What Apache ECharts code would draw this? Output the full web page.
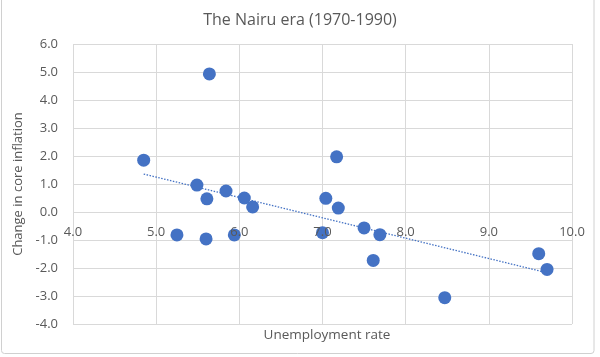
<!DOCTYPE html>
<html>
<head>
<meta charset="utf-8">
<script src="https://cdn.jsdelivr.net/npm/echarts@6/dist/echarts.min.js"></script>
<style>
html,body{margin:0;padding:0;background:#fff;}
#chart{width:600px;height:357px;}
</style>
</head>
<body>
<div id="chart"></div>
<script>
// Unemployment rate (x) and change in core inflation (y), 1970-1990
var unemployment = [4.85, 5.64, 5.49, 5.61, 5.84, 6.06, 6.16, 5.25, 5.60, 5.94, 7.00, 7.04, 7.17, 7.19, 7.50, 7.69, 7.61, 8.47, 9.60, 9.70];
var inflationChange = [1.85, 4.93, 0.96, 0.47, 0.75, 0.50, 0.18, -0.82, -0.96, -0.82, -0.74, 0.49, 1.97, 0.14, -0.57, -0.81, -1.73, -3.06, -1.49, -2.05];
var xTicks = [4.0, 5.0, 6.0, 7.0, 8.0, 9.0, 10.0];
var yTicks = [-4.0, -3.0, -2.0, -1.0, 0.0, 1.0, 2.0, 3.0, 4.0, 5.0, 6.0];

var points = unemployment.map(function (x, i) { return [x, inflationChange[i]]; });

// least-squares linear trendline
var n = unemployment.length, sx = 0, sy = 0, sxx = 0, sxy = 0;
for (var i = 0; i < n; i++) {
  sx += unemployment[i]; sy += inflationChange[i];
  sxx += unemployment[i] * unemployment[i]; sxy += unemployment[i] * inflationChange[i];
}
var slope = (n * sxy - sx * sy) / (n * sxx - sx * sx);
var icpt = (sy - slope * sx) / n;
var xMin = Math.min.apply(null, unemployment), xMax = Math.max.apply(null, unemployment);
var trend = [[xMin, icpt + slope * xMin], [xMax, icpt + slope * xMax]];

var FONT = 'Open Sans';
var TXT = '#595959';
var GRID = '#d9d9d9';

var H = 357, GRID_TOP = 44, GRID_BOTTOM = 33;
var yMinV = yTicks[0], yMaxV = yTicks[yTicks.length - 1];
var xMinV = xTicks[0], xMaxV = xTicks[xTicks.length - 1];
// horizontal axis crosses the vertical axis at 0 (as in the Excel original)
var zeroOffset = -(0 - yMinV) / (yMaxV - yMinV) * (H - GRID_TOP - GRID_BOTTOM);
var fmt = function (v) { return v.toFixed(1); };

var chart = echarts.init(document.getElementById('chart'));
chart.setOption({
  backgroundColor: '#ffffff',
  animation: false,
  title: [{
    text: 'The Nairu era (1970-1990)',
    left: 'center',
    top: 7,
    textStyle: { fontFamily: FONT, fontSize: 16, fontWeight: 'normal', color: TXT }
  }, {
    text: 'Unemployment rate',
    left: 322, textAlign: 'center',
    top: 323,
    textStyle: { fontFamily: FONT, fontSize: 13.5, fontWeight: 'normal', color: TXT }
  }],
  graphic: [{
    type: 'rect',
    shape: { x: 1.5, y: -4, width: 592.5, height: 357.5, r: 3 },
    style: { fill: 'none', stroke: '#d0d0d0', lineWidth: 1 },
    silent: true, z: -10
  }],
  grid: { left: 73, right: 28, top: GRID_TOP, bottom: GRID_BOTTOM },
  xAxis: [{
    type: 'value',
    min: xMinV, max: xMaxV, interval: 1,
    axisLine: { show: false, onZero: false },
    axisTick: { show: false },
    axisLabel: { show: false },
    splitLine: { show: true, lineStyle: { color: GRID } }
  }, {
    type: 'value',
    position: 'bottom',
    offset: zeroOffset,
    min: xMinV, max: xMaxV, interval: 1,
    z: 10,
    axisLine: { show: false, onZero: false },
    axisTick: { show: false },
    splitLine: { show: false },
    axisLabel: { margin: 14, fontFamily: FONT, fontSize: 13, color: TXT, formatter: fmt }
  }],
  yAxis: {
    type: 'value',
    min: yMinV, max: yMaxV, interval: 1,
    axisLine: { show: false, onZero: false },
    axisTick: { show: false },
    splitLine: { show: true, lineStyle: { color: GRID } },
    axisLabel: { margin: 15, fontFamily: FONT, fontSize: 13, color: TXT, formatter: fmt },
    name: 'Change in core inflation', nameLocation: 'middle', nameGap: 43,
    nameTextStyle: { fontFamily: FONT, fontSize: 13, color: TXT }
  },
  series: [{
    type: 'line',
    xAxisIndex: 0,
    data: trend,
    showSymbol: false,
    lineStyle: { color: '#4472C4', width: 1.3, type: [1.5, 1.5] },
    silent: true, z: 1
  }, {
    type: 'scatter',
    xAxisIndex: 0,
    data: points,
    symbol: 'circle',
    symbolSize: 13,
    itemStyle: { color: '#4472C4', opacity: 1 },
    z: 3
  }]
});
</script>
</body>
</html>
